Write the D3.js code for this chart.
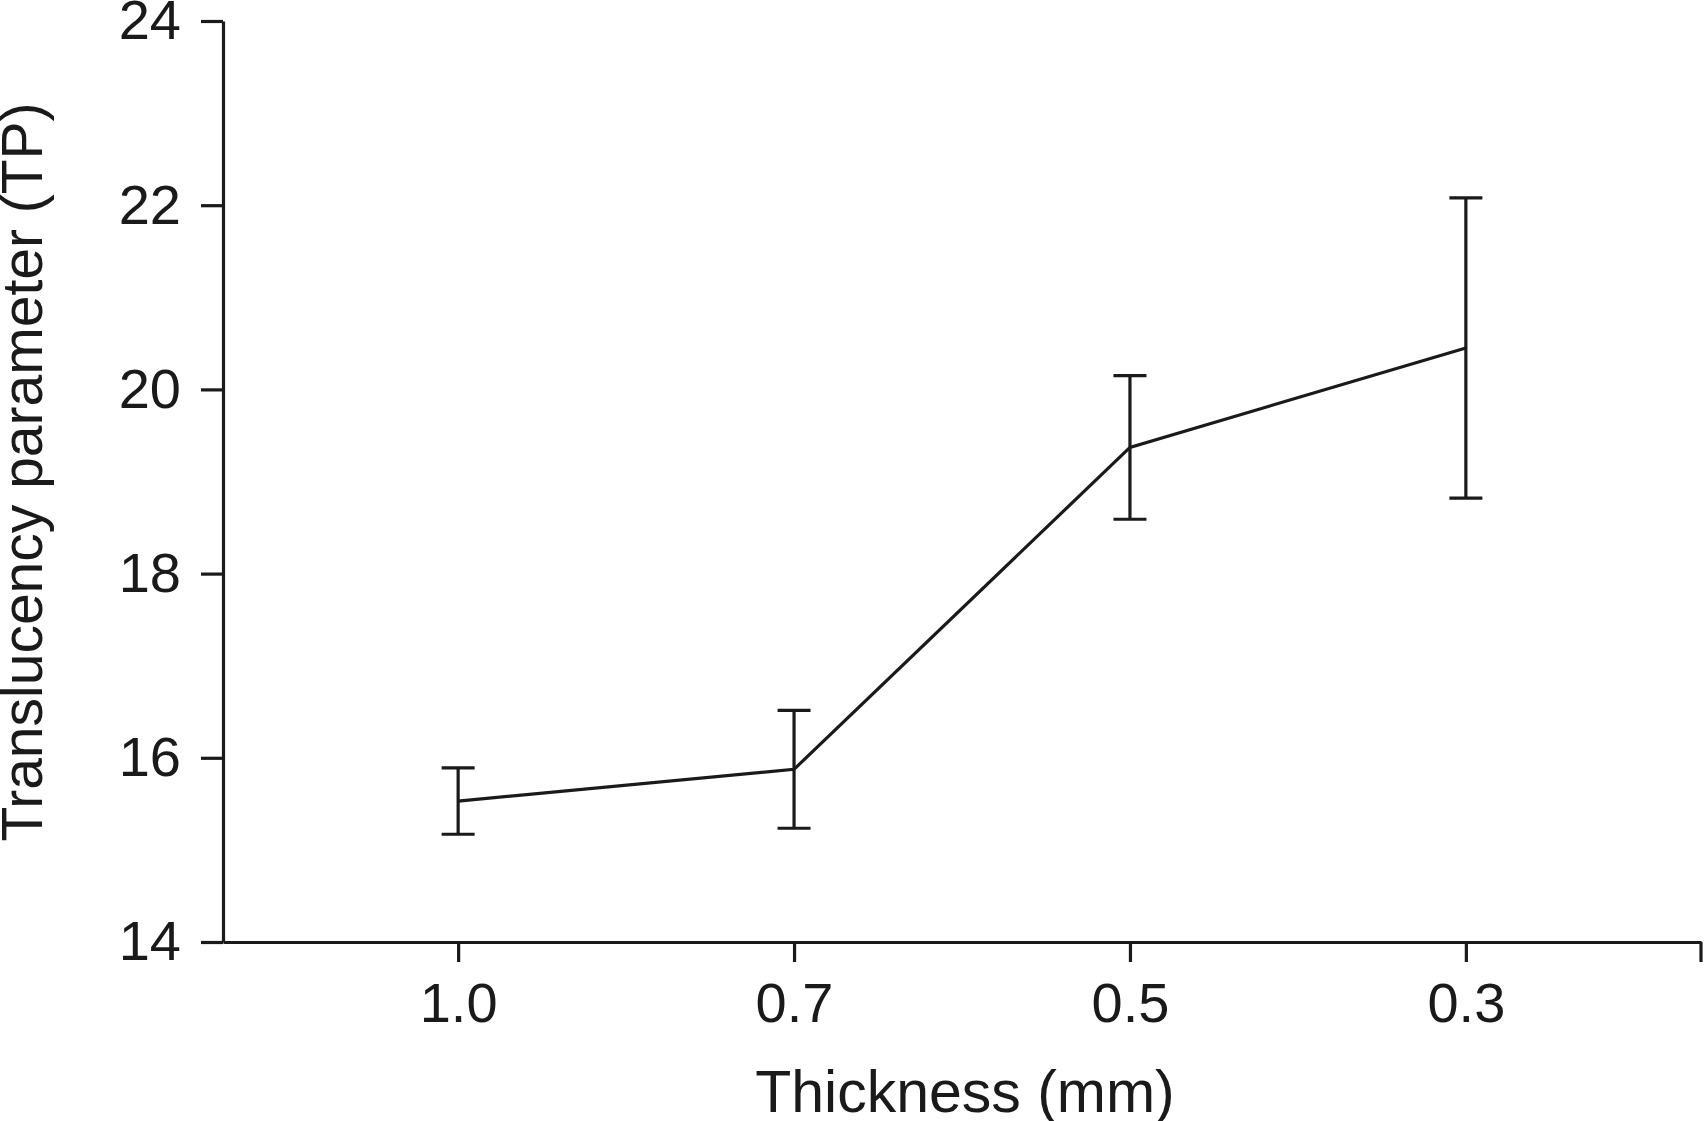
<!DOCTYPE html>
<html>
<head>
<meta charset="utf-8">
<script src="https://cdn.jsdelivr.net/npm/d3@7"></script>
<style>
  html, body { margin: 0; padding: 0; background: #fff; }
  svg { display: block; }
  text { font-family: "Liberation Sans", Arial, sans-serif; fill: #1a1a1a; }
</style>
</head>
<body>
<svg id="chart" width="1704" height="1121"></svg>
<script>
const categories = ["1.0", "0.7", "0.5", "0.3"];
const means = [15.53, 15.875, 19.37, 20.45];
const errors = [0.36, 0.64, 0.78, 1.63];
const yTicks = [14, 16, 18, 20, 22, 24];
const xTitle = "Thickness (mm)";
const yTitle = "Translucency parameter (TP)";

(function () {
const data = categories.map((c, i) => ({ c, m: means[i], e: errors[i] }));

const svg = d3.select("#chart");
const ink = "#1a1a1a";
const sw = 3.2;
const pLeft = 223, pRight = 1701, pTop = 21, pBottom = 942;

const x = d3.scalePoint().domain(categories).range([pLeft, pRight]).padding(0.7);
const y = d3.scaleLinear().domain([14, 24]).range([pBottom, pTop]);

// Y axis
const yAxis = svg.append("g")
  .attr("transform", `translate(${pLeft},0)`)
  .call(d3.axisLeft(y).tickValues(yTicks).tickSize(22).tickSizeOuter(0).tickPadding(20));
yAxis.selectAll("path, line").attr("stroke", ink).attr("stroke-width", sw);
yAxis.selectAll("text").attr("font-size", 56).attr("font-family", "Liberation Sans, Arial, sans-serif").attr("fill", ink);

// X axis
const xAxis = svg.append("g")
  .attr("transform", `translate(0,${pBottom})`)
  .call(d3.axisBottom(x).tickSize(20).tickSizeOuter(0).tickPadding(20));
xAxis.selectAll("path, line").attr("stroke", ink).attr("stroke-width", sw);
xAxis.selectAll("text").attr("font-size", 56).attr("font-family", "Liberation Sans, Arial, sans-serif").attr("fill", ink);
xAxis.append("line")
  .attr("x1", x.range()[1]).attr("x2", x.range()[1])
  .attr("y1", 0).attr("y2", 20)
  .attr("stroke", ink).attr("stroke-width", sw);

// Line
const line = d3.line().x(d => x(d.c)).y(d => y(d.m));
svg.append("path")
  .datum(data)
  .attr("d", line)
  .attr("fill", "none")
  .attr("stroke", ink)
  .attr("stroke-width", sw);

// Error bars
const cap = 16.5;
const eb = svg.append("g").attr("stroke", ink).attr("stroke-width", sw);
data.forEach(d => {
  const cx = x(d.c);
  eb.append("line").attr("x1", cx).attr("x2", cx).attr("y1", y(d.m + d.e)).attr("y2", y(d.m - d.e));
  eb.append("line").attr("x1", cx - cap).attr("x2", cx + cap).attr("y1", y(d.m + d.e)).attr("y2", y(d.m + d.e));
  eb.append("line").attr("x1", cx - cap).attr("x2", cx + cap).attr("y1", y(d.m - d.e)).attr("y2", y(d.m - d.e));
});

// Axis titles
svg.append("text")
  .attr("x", (pLeft + pRight) / 2 + 3)
  .attr("y", 1112)
  .attr("text-anchor", "middle")
  .attr("font-size", 59)
  .text(xTitle);

svg.append("text")
  .attr("transform", `translate(42,472) rotate(-90)`)
  .attr("text-anchor", "middle")
  .attr("font-size", 57)
  .text(yTitle);
})();
</script>
</body>
</html>
